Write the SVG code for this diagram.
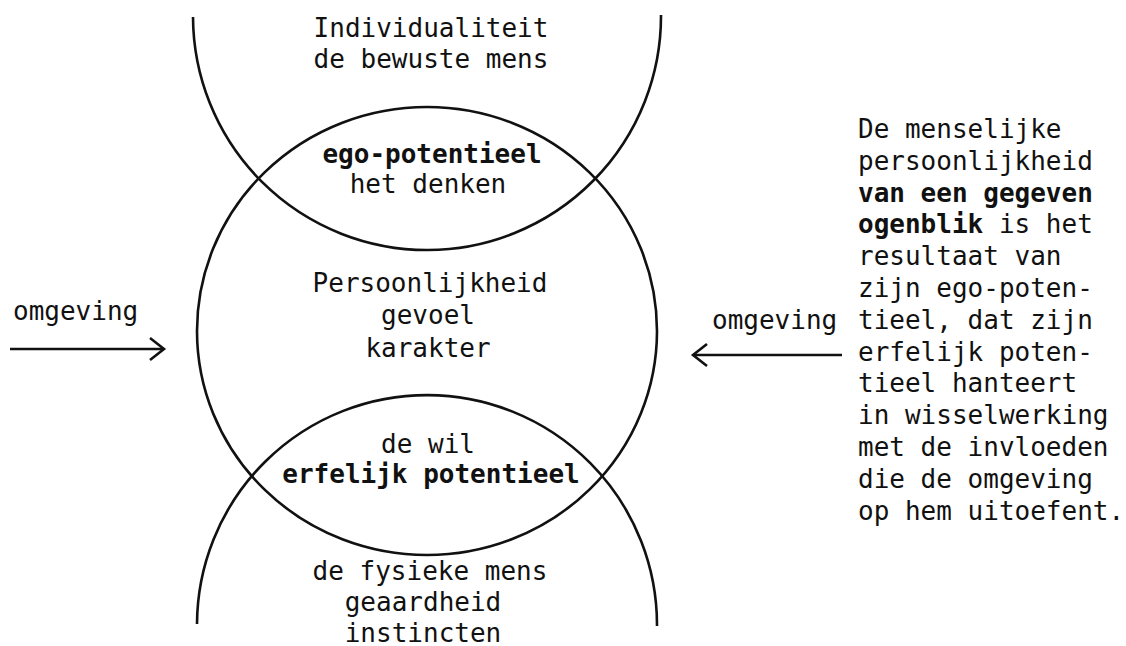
<svg xmlns="http://www.w3.org/2000/svg" width="1126" height="646" viewBox="0 0 1126 646">
<style>
.ln{fill:none;stroke:#111;stroke-width:2.6}
text{font-family:"DejaVu Sans Mono","Liberation Mono",monospace;font-size:26px;fill:#111}
.c{text-anchor:middle}
.b{font-weight:bold}
</style>
<defs>
<marker id="ah" viewBox="-17 -14 20 28" markerWidth="20" markerHeight="28" refX="0" refY="0" markerUnits="userSpaceOnUse" orient="auto">
<path d="M-14,-11 L0,0 L-14,11" fill="none" stroke="#111" stroke-width="2.6" stroke-linejoin="miter"/>
</marker>
</defs>
<rect width="1126" height="646" fill="#fff"/>
<g id="top-circle">
<path class="ln" d="M193 17 A234 234 0 0 0 661 15"/>
<text class="c" x="431" y="37">Individualiteit</text>
<text class="c" x="431" y="68">de bewuste mens</text>
</g>
<g id="ego-lens">
<text class="c b" x="432" y="163">ego-potentieel</text>
<text class="c" x="428" y="193">het denken</text>
</g>
<g id="middle-circle">
<ellipse class="ln" cx="427" cy="331" rx="230" ry="224"/>
<text class="c" x="430" y="292">Persoonlijkheid</text>
<text class="c" x="428" y="324">gevoel</text>
<text class="c" x="428" y="357">karakter</text>
</g>
<g id="will-lens">
<text class="c" x="428" y="453">de wil</text>
<text class="c b" x="431" y="483">erfelijk potentieel</text>
</g>
<g id="bottom-circle">
<path class="ln" d="M197 624 A230 230 0 0 1 657 626"/>
<text class="c" x="430" y="580">de fysieke mens</text>
<text class="c" x="423" y="611">geaardheid</text>
<text class="c" x="423" y="642">instincten</text>
</g>
<g id="left-env">
<text x="13" y="320">omgeving</text>
</g>
<g id="right-env">
<text x="712" y="329">omgeving</text>
</g>
<g id="note">
<text x="858" y="138">De menselijke</text>
<text x="858" y="170">persoonlijkheid</text>
<text x="858" y="202" class="b">van een gegeven</text>
<text x="858" y="233"><tspan class="b">ogenblik</tspan> is het</text>
<text x="858" y="265">resultaat van</text>
<text x="858" y="297">zijn ego-poten-</text>
<text x="858" y="329">tieel, dat zijn</text>
<text x="858" y="361">erfelijk poten-</text>
<text x="858" y="392">tieel hanteert</text>
<text x="858" y="424">in wisselwerking</text>
<text x="858" y="456">met de invloeden</text>
<text x="858" y="488">die de omgeving</text>
<text x="858" y="520">op hem uitoefent.</text>
</g>
<g id="connectors">
<line class="ln" x1="10" y1="349" x2="164" y2="349" marker-end="url(#ah)"/>
<line class="ln" x1="842" y1="355" x2="693" y2="355" marker-end="url(#ah)"/>
</g>
</svg>
